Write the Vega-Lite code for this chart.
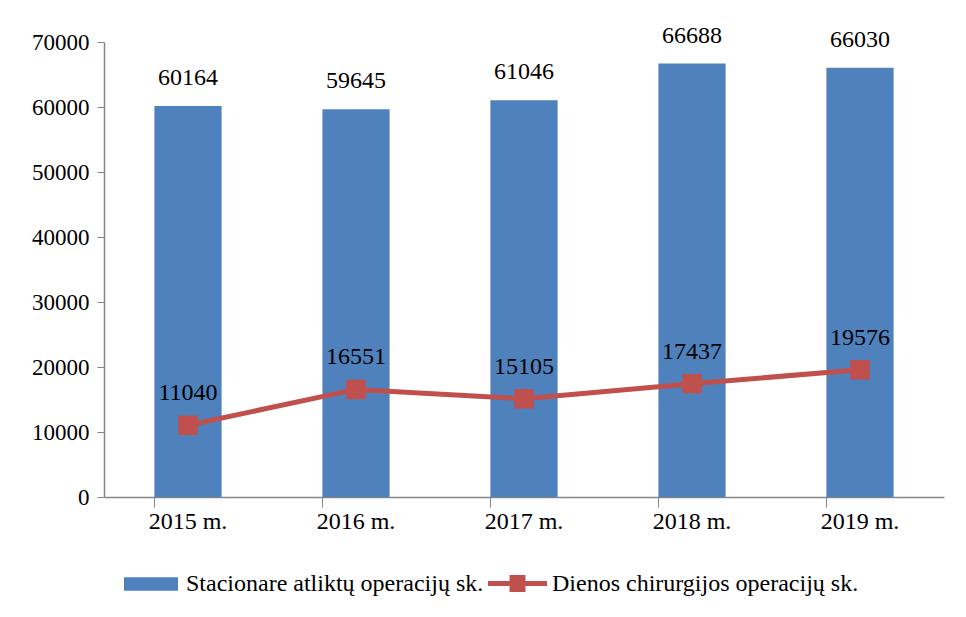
{
  "$schema": "https://vega.github.io/schema/vega-lite/v6.json",
  "width": 840,
  "height": 455,
  "autosize": {"type": "none"},
  "padding": {"left": 104, "top": 42, "right": 22, "bottom": 120},
  "background": "white",
  "config": {
    "view": {"stroke": null},
    "font": "Liberation Serif",
    "axis": {"labelFont": "Liberation Serif", "labelFontSize": 24, "labelColor": "#000000", "domainColor": "#868686", "tickColor": "#868686", "grid": false, "title": null},
    "legend": {"labelFont": "Liberation Serif", "labelFontSize": 24, "labelColor": "#000000", "padding": 0, "title": null, "labelLimit": 0}
  },
  "data": {
    "values": [
      {"year": "2015 m.", "stac": 60164, "dien": 11040, "s1": "Stacionare atliktų operacijų sk.", "s2": "Dienos chirurgijos operacijų sk."},
      {"year": "2016 m.", "stac": 59645, "dien": 16551, "s1": "Stacionare atliktų operacijų sk.", "s2": "Dienos chirurgijos operacijų sk."},
      {"year": "2017 m.", "stac": 61046, "dien": 15105, "s1": "Stacionare atliktų operacijų sk.", "s2": "Dienos chirurgijos operacijų sk."},
      {"year": "2018 m.", "stac": 66688, "dien": 17437, "s1": "Stacionare atliktų operacijų sk.", "s2": "Dienos chirurgijos operacijų sk."},
      {"year": "2019 m.", "stac": 66030, "dien": 19576, "s1": "Stacionare atliktų operacijų sk.", "s2": "Dienos chirurgijos operacijų sk."}
    ]
  },
  "encoding": {
    "x": {
      "field": "year", "type": "nominal", "sort": null,
      "scale": {"paddingInner": 0.6, "paddingOuter": 0.3},
      "axis": {"labelAngle": 0, "bandPosition": 0, "tickSize": 10, "labelPadding": 2, "domainWidth": 1.5}
    }
  },
  "layer": [
    {
      "mark": {"type": "bar"},
      "encoding": {
        "y": {
          "field": "stac", "type": "quantitative",
          "scale": {"domain": [0, 70000], "nice": false},
          "axis": {"values": [0, 10000, 20000, 30000, 40000, 50000, 60000, 70000], "format": "d", "tickSize": 7, "labelPadding": 8, "labelFontSize": 23, "domainWidth": 1.5}
        },
        "fill": {
          "field": "s1", "type": "nominal",
          "scale": {"range": ["#4F81BD"]},
          "legend": {"orient": "none", "legendX": 20, "legendY": 515, "symbolType": "M-1,-0.25L1,-0.25L1,0.25L-1,0.25Z", "symbolSize": 2916, "symbolStrokeWidth": 0, "labelOffset": 8}
        }
      }
    },
    {
      "mark": {"type": "text", "fontSize": 24, "font": "Liberation Serif", "color": "#000000", "baseline": "alphabetic", "dy": -21},
      "encoding": {
        "y": {"field": "stac", "type": "quantitative"},
        "text": {"field": "stac", "type": "quantitative", "format": "d"}
      }
    },
    {
      "mark": {"type": "line", "color": "#C0504D", "strokeWidth": 5},
      "encoding": {
        "y": {"field": "dien", "type": "quantitative"}
      }
    },
    {
      "mark": {"type": "point", "shape": "square", "filled": true, "size": 380, "opacity": 1},
      "encoding": {
        "y": {"field": "dien", "type": "quantitative"},
        "color": {
          "field": "s2", "type": "nominal",
          "scale": {"range": ["#C0504D"]},
          "legend": {"orient": "none", "legendX": 384, "legendY": 512, "symbolType": "M-1,-0.085L-0.27,-0.085L-0.27,-0.29L0.27,-0.29L0.27,-0.085L1,-0.085L1,0.085L0.27,0.085L0.27,0.29L-0.27,0.29L-0.27,0.085L-1,0.085Z", "symbolSize": 3481, "symbolStrokeWidth": 0, "symbolOpacity": 1, "labelOffset": 5}
        }
      }
    },
    {
      "mark": {"type": "text", "fontSize": 24, "font": "Liberation Serif", "color": "#000000", "baseline": "alphabetic", "dy": -25},
      "encoding": {
        "y": {"field": "dien", "type": "quantitative"},
        "text": {"field": "dien", "type": "quantitative", "format": "d"}
      }
    }
  ]
}
